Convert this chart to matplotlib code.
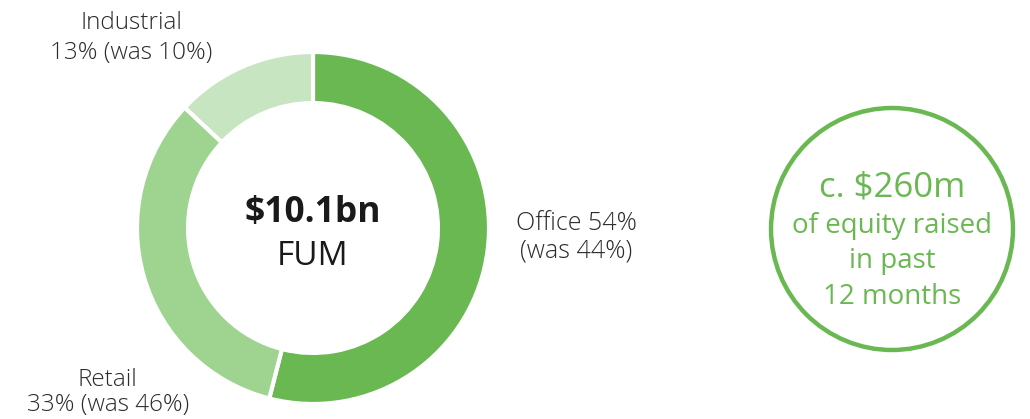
import matplotlib
matplotlib.use("Agg")
import matplotlib.pyplot as plt
from matplotlib.patches import Circle

plt.rcParams['font.family'] = ['Open Sans', 'DejaVu Sans']

sectors = ["Office", "Retail", "Industrial"]
shares = [54, 33, 13]
previous = [44, 46, 10]
colors = ["#69b852", "#9fd390", "#c6e5c0"]
total_label = "$10.1bn"
total_sub = "FUM"
equity_lines = ["c. $260m", "of equity raised", "in past", "12 months"]

W, H = 1030, 419
fig = plt.figure(figsize=(W / 100, H / 100), dpi=100)
ax = fig.add_axes([0, 0, 1, 1])

def Y(y):
    return H - y

cx, cy, R = 313, Y(228), 176
ax.pie(shares, colors=colors, startangle=90, counterclock=False,
       center=(cx, cy), radius=R,
       wedgeprops=dict(width=R * 0.29, edgecolor="white", linewidth=3))
ax.set_xlim(0, W)
ax.set_ylim(0, H)
ax.set_aspect('equal')
ax.axis('off')

dark = "#1a1a1a"
txtc = "#2b2b2b"
ax.text(cx, Y(222), total_label, ha="center", va="baseline", fontsize=25.5,
        fontweight="bold", color=dark)
ax.text(cx, Y(265), total_sub, ha="center", va="baseline", fontsize=24, color=dark)

lab = {s: (f"{s} {v}%", f"{v}% (was {p}%)", f"(was {p}%)") for s, v, p in zip(sectors, shares, previous)}
fs = 17.5
kw = dict(ha="center", va="baseline", fontsize=fs, color=txtc, fontweight="light")
ax.text(576, Y(230), lab["Office"][0], fontsize=18, **{k: v for k, v in kw.items() if k != "fontsize"})
ax.text(576, Y(258), lab["Office"][2], fontsize=18, **{k: v for k, v in kw.items() if k != "fontsize"})
ax.text(131, Y(29), "Industrial", **kw)
ax.text(131, Y(59), lab["Industrial"][1], **kw)
ax.text(107, Y(386), "Retail", **kw)
ax.text(108, Y(411), lab["Retail"][1], **kw)

gc = "#69b852"
ax.add_patch(Circle((892, Y(229)), 121, fill=False, edgecolor=gc, linewidth=3.2))
ax.text(892, Y(197), equity_lines[0], ha="center", va="baseline", fontsize=25, color=gc)
ekw = dict(ha="center", va="baseline", fontsize=20, color=gc)
ax.text(892, Y(233), equity_lines[1], **ekw)
ax.text(892, Y(268), equity_lines[2], **ekw)
ax.text(892, Y(304), equity_lines[3], **ekw)

fig.savefig("out.png", dpi=100)
